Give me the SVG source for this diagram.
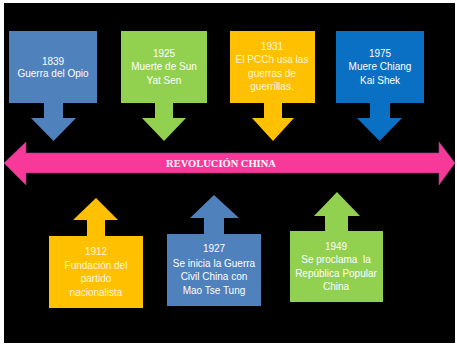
<svg xmlns="http://www.w3.org/2000/svg" width="457" height="345" viewBox="0 0 457 345">
<style>
text{font-family:"Liberation Sans",Arial,sans-serif;font-size:10px;fill:#fff;text-anchor:middle}
.blue{fill:#4f81bd}
.dblue{fill:#0a70c4}
.green{fill:#92d050}
.yellow{fill:#ffc000}
.yt{fill:#fff6dc}
.title{font-family:"Liberation Serif","Times New Roman",serif;font-weight:bold;font-size:10.5px}
</style>
<rect width="457" height="345" fill="#fff"/>
<rect x="4" y="3" width="451" height="340" fill="#000"/>
<g id="connectors">
<polygon id="timeline" points="4,163 26,142 26,153 439,153 439,142 455,163 439,185 439,173 26,173 26,185" fill="#f7399a" stroke="#a04080" stroke-width="0.6"/>
<text class="title" x="221" y="167">REVOLUCIÓN CHINA</text>
</g>
<g id="n1839">
<rect class="blue" x="9" y="31" width="88" height="72"/>
<polygon class="blue" points="44,103 63,103 63,118 76,118 53.5,141 31,118 44,118"/>
<text x="53" y="65">1839</text>
<text x="53" y="77">Guerra del Opio</text>
</g>
<g id="n1925">
<rect class="green" x="121" y="31" width="86" height="72"/>
<polygon class="green" points="155,103 173,103 173,118 186,118 164,141 142,118 155,118"/>
<text x="164" y="57">1925</text>
<text x="164" y="70">Muerte de Sun</text>
<text x="164" y="84">Yat Sen</text>
</g>
<g id="n1931">
<rect class="yellow" x="230" y="31" width="85" height="72"/>
<polygon class="yellow" points="264,103 282,103 282,118 294,118 273,141 252,118 264,118"/>
<text class="yt" x="272" y="50">1931</text>
<text class="yt" x="272" y="63">El PCCh usa las</text>
<text class="yt" x="272" y="77">guerras de</text>
<text class="yt" x="272" y="90">guerrillas.</text>
</g>
<g id="n1975">
<rect class="dblue" x="336" y="31" width="88" height="72"/>
<polygon class="dblue" points="370,103 390,103 390,118 402,118 379.5,141 357,118 370,118"/>
<text x="380" y="57">1975</text>
<text x="380" y="70">Muere Chiang</text>
<text x="380" y="84">Kai Shek</text>
</g>
<g id="n1912">
<rect class="yellow" x="49" y="236" width="94" height="72"/>
<polygon class="yellow" points="87,236 105,236 105,220 118,220 96,198 73,220 87,220"/>
<text class="yt" x="96" y="255">1912</text>
<text class="yt" x="96" y="269">Fundación del</text>
<text class="yt" x="96" y="282">partido</text>
<text class="yt" x="96" y="296">nacionalista</text>
</g>
<g id="n1927">
<rect class="blue" x="167" y="234" width="94" height="72"/>
<polygon class="blue" points="204,234 224,234 224,218 239,218 214,195 190,218 204,218"/>
<text x="214" y="252">1927</text>
<text x="214" y="267">Se inicia la Guerra</text>
<text x="214" y="280">Civil China con</text>
<text x="214" y="294">Mao Tse Tung</text>
</g>
<g id="n1949">
<rect class="green" x="290" y="231" width="93" height="71"/>
<polygon class="green" points="325,231 348,231 348,216 360,216 337,192 314,216 325,216"/>
<text x="336" y="250">1949</text>
<text x="336" y="263">Se proclama&#160; la</text>
<text x="336" y="277">República Popular</text>
<text x="336" y="290">China</text>
</g>
</svg>
